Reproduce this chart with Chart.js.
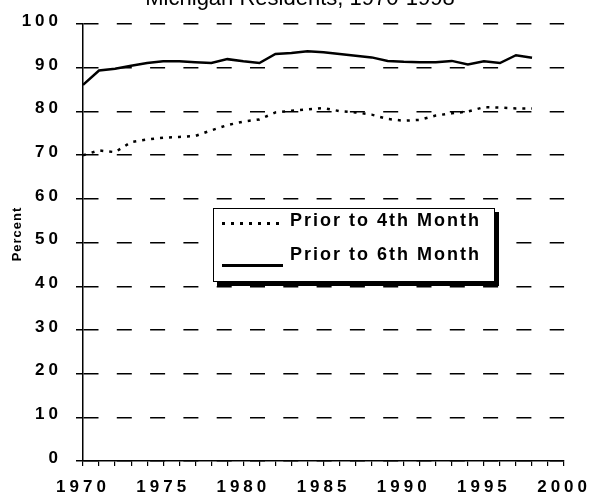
<!DOCTYPE html>
<html>
<head>
<meta charset="utf-8">
<script src="https://cdn.jsdelivr.net/npm/chart.js@4.4.1/dist/chart.umd.min.js"></script>
<style>
  body { margin: 0; background: #fff; }
  #wrap { position: relative; width: 594px; height: 497px; }
  #legend {
    position: absolute; left: 213px; top: 208px; width: 282px; height: 74px;
    box-sizing: border-box; border: 1px solid #000; box-shadow: 4px 4px 0 #000;
    background: #fff; font: bold 18px "Liberation Sans", Arial, sans-serif;
    letter-spacing: 2px; color: #000;
  }
  #legend .txt { position: absolute; left: 76px; line-height: 18px; white-space: nowrap; }
  #legend .sample { position: absolute; left: 8px; width: 61px; }
  #legend .dotted { height: 3px; background: repeating-linear-gradient(to right, #000 0 3px, transparent 3px 9px); }
  #legend .solid { height: 2.5px; background: #000; }
</style>
</head>
<body>
<div id="wrap">
  <canvas id="chart" width="594" height="497"></canvas>
  <div id="legend"></div>
</div>
<script>
const years = [1970, 1971, 1972, 1973, 1974, 1975, 1976, 1977, 1978, 1979,
  1980, 1981, 1982, 1983, 1984, 1985, 1986, 1987, 1988, 1989,
  1990, 1991, 1992, 1993, 1994, 1995, 1996, 1997, 1998];
const prior4th = [70.0, 71.1, 70.7, 73.0, 73.6, 74.0, 74.2, 74.4, 75.7, 76.9,
  77.7, 78.2, 79.8, 80.2, 80.5, 80.8, 80.1, 79.8, 79.3, 78.3,
  77.9, 78.1, 79.1, 79.6, 80.0, 81.0, 80.9, 80.7, 80.7];
const prior6th = [86.1, 89.4, 89.8, 90.5, 91.1, 91.5, 91.5, 91.3, 91.1, 92.0,
  91.5, 91.1, 93.2, 93.4, 93.8, 93.6, 93.2, 92.8, 92.4, 91.6,
  91.4, 91.3, 91.3, 91.6, 90.8, 91.5, 91.1, 92.9, 92.3];
const seriesNames = ['Prior to 4th Month', 'Prior to 6th Month'];
const titleText = 'Michigan Residents, 1970-1998';
const yTitle = 'Percent';

const fontFamily = '"Liberation Sans", Arial, sans-serif';

// canvas text spacing, title and axis title drawn by hand
const extras = {
  id: 'extras',
  beforeDraw(chart) {
    chart.ctx.letterSpacing = '4px';
  },
  afterDraw(chart) {
    const ctx = chart.ctx;
    ctx.save();
    ctx.letterSpacing = '0px';
    ctx.fillStyle = '#000';
    ctx.font = '22px ' + fontFamily;
    ctx.textAlign = 'center';
    ctx.textBaseline = 'alphabetic';
    ctx.fillText(titleText, 300, 5);
    ctx.translate(17, 234);
    ctx.rotate(-Math.PI / 2);
    ctx.letterSpacing = '1px';
    ctx.font = 'bold 13px ' + fontFamily;
    ctx.textBaseline = 'middle';
    ctx.fillText(yTitle, 0, 0);
    ctx.restore();
  }
};

const toPoints = (vals) => years.map((yr, i) => ({ x: yr, y: vals[i] }));

const chart = new Chart(document.getElementById('chart'), {
  type: 'line',
  data: {
    datasets: [{
      label: seriesNames[0],
      data: toPoints(prior4th),
      borderColor: '#000',
      borderWidth: 2.5,
      borderDash: [3, 6],
      pointRadius: 0,
      tension: 0
    }, {
      label: seriesNames[1],
      data: toPoints(prior6th),
      borderColor: '#000',
      borderWidth: 2.5,
      pointRadius: 0,
      tension: 0
    }]
  },
  options: {
    responsive: false,
    animation: false,
    layout: { padding: { top: 21, right: 28, left: 0, bottom: 0 } },
    plugins: {
      legend: { display: false },
      tooltip: { enabled: false }
    },
    scales: {
      x: {
        type: 'linear',
        min: 1970,
        max: 2000,
        afterFit: (scale) => { scale.height = 36; },
        grid: { drawOnChartArea: false, drawTicks: true, tickLength: 5, color: '#000', lineWidth: 1.2 },
        border: { display: true, color: '#000', width: 1.5 },
        ticks: {
          stepSize: 1,
          autoSkip: false,
          maxRotation: 0,
          padding: 11,
          color: '#000',
          font: { family: fontFamily, size: 17, weight: 'bold' },
          callback: (v) => (v % 5 === 0 ? String(v) : '')
        }
      },
      y: {
        min: 0,
        max: 100,
        afterFit: (scale) => { scale.width = 83; },
        grid: {
          color: '#000', lineWidth: 1.5,
          tickBorderDash: [], tickLength: 7
        },
        border: { display: true, color: '#000', width: 1.5, dash: [15, 18.3] },
        ticks: {
          stepSize: 10,
          padding: 14,
          labelOffset: -3,
          color: '#000',
          font: { family: fontFamily, size: 17, weight: 'bold' }
        }
      }
    }
  },
  plugins: [extras]
});

// html legend from the dataset labels
const legend = document.getElementById('legend');
chart.data.datasets.forEach((ds, i) => {
  const sample = document.createElement('div');
  sample.className = 'sample ' + (ds.borderDash ? 'dotted' : 'solid');
  sample.style.top = i === 0 ? '12.5px' : '55px';
  const txt = document.createElement('div');
  txt.className = 'txt';
  txt.style.top = i === 0 ? '2px' : '36px';
  txt.textContent = ds.label;
  legend.appendChild(sample);
  legend.appendChild(txt);
});
</script>
</body>
</html>
